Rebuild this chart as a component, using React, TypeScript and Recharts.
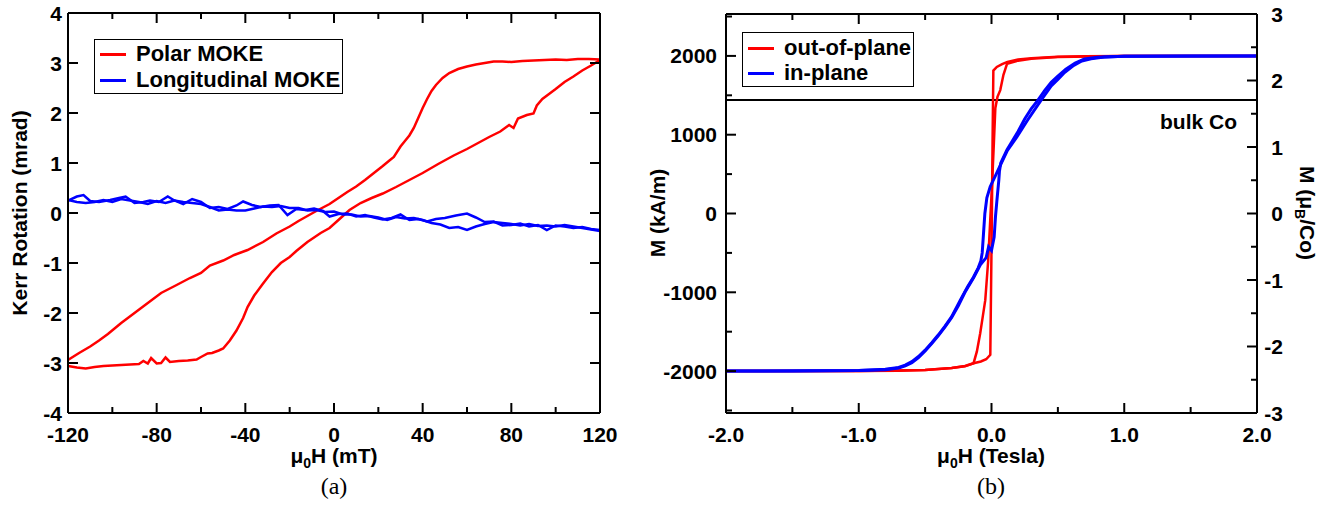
import { LineChart, Line, XAxis, YAxis, ReferenceLine } from 'recharts'

// ---- panel (a): Kerr rotation (mrad) vs field (mT) ----
const polarDown: [number, number][] = [
  [120, 3.07], [115, 3.08], [110, 3.08], [105, 3.06], [100, 3.07], [95, 3.06], [90, 3.05], [85, 3.04],
  [80, 3.02], [76, 3.03], [72, 3.03], [68, 3.0], [64, 2.97], [60, 2.93], [56, 2.88], [52, 2.8],
  [49, 2.7], [46, 2.56], [44, 2.44], [42, 2.28], [40, 2.1], [38, 1.9], [36, 1.7], [34, 1.55],
  [32, 1.44], [30, 1.33], [27, 1.12], [25, 1.05], [22, 0.94], [18, 0.8], [14, 0.66], [10, 0.53],
  [6, 0.42], [2, 0.3], [-2, 0.18], [-8, 0.04], [-12, -0.06], [-16, -0.16], [-20, -0.27], [-26, -0.41],
  [-32, -0.58], [-39, -0.74], [-45, -0.84], [-50, -0.95], [-56, -1.05], [-60, -1.2], [-65, -1.3],
  [-71, -1.44], [-78, -1.6], [-84, -1.8], [-90, -2.0], [-96, -2.2], [-102, -2.42], [-106, -2.55],
  [-110, -2.67], [-115, -2.8], [-120, -2.94],
]
const polarUp: [number, number][] = [
  [-120, -3.06], [-116, -3.09], [-112, -3.11], [-108, -3.08], [-104, -3.06], [-100, -3.05], [-96, -3.04],
  [-92, -3.03], [-88, -3.02], [-86, -2.96], [-84, -3.01], [-82.5, -2.9], [-80, -3.01], [-78, -3.0],
  [-76, -2.89], [-74, -2.98], [-70, -2.96], [-66, -2.95], [-62, -2.93], [-60, -2.88], [-57, -2.81],
  [-55, -2.8], [-52, -2.75], [-50, -2.71], [-47, -2.55], [-44, -2.35], [-41, -2.1], [-39, -1.88],
  [-36, -1.65], [-32, -1.41], [-28, -1.18], [-24, -1.0], [-20, -0.88], [-17, -0.76], [-12, -0.58],
  [-6, -0.4], [-2, -0.3], [3, -0.1], [7, 0.06], [12, 0.2], [17, 0.3], [22, 0.39], [28, 0.52],
  [34, 0.66], [40, 0.8], [47, 0.98], [54, 1.15], [60, 1.28], [65, 1.4], [70, 1.52], [75, 1.63],
  [79, 1.76], [81, 1.7], [83, 1.89], [87, 1.96], [90, 1.99], [91.5, 2.15], [94, 2.28], [97, 2.38],
  [100, 2.48], [104, 2.62], [108, 2.73], [112, 2.85], [116, 2.95], [120, 3.06],
]
const longUp: [number, number][] = [
  [-120, 0.25], [-116, 0.33], [-113, 0.36], [-110, 0.24], [-106, 0.22], [-101, 0.26], [-97, 0.3],
  [-94, 0.33], [-90, 0.2], [-86, 0.22], [-83, 0.25], [-79, 0.22], [-75, 0.33], [-72, 0.25], [-68, 0.18],
  [-64, 0.28], [-60, 0.22], [-56, 0.1], [-52, 0.12], [-48, 0.08], [-44, 0.15], [-41, 0.23], [-37, 0.16],
  [-33, 0.12], [-29, 0.15], [-25, 0.16], [-21, -0.04], [-17, 0.08], [-13, 0.06], [-9, 0.09], [-5, 0.04],
  [-2, -0.07], [2, -0.02], [6, -0.01], [10, -0.07], [14, -0.04], [18, -0.09], [22, -0.13], [26, -0.1],
  [30, -0.03], [34, -0.14], [38, -0.12], [42, -0.17], [46, -0.12], [50, -0.1], [55, -0.05], [60, -0.01],
  [64, -0.09], [68, -0.18], [72, -0.17], [76, -0.25], [80, -0.24], [84, -0.21], [88, -0.27], [92, -0.24],
  [96, -0.34], [100, -0.25], [104, -0.27], [108, -0.3], [112, -0.28], [116, -0.32], [120, -0.34],
]
const longDown: [number, number][] = [
  [120, -0.36], [116, -0.33], [112, -0.3], [108, -0.27], [104, -0.24], [100, -0.27], [96, -0.25],
  [92, -0.26], [88, -0.22], [84, -0.25], [80, -0.22], [76, -0.2], [72, -0.18], [68, -0.22], [64, -0.27],
  [60, -0.34], [56, -0.28], [52, -0.3], [48, -0.23], [44, -0.2], [40, -0.14], [36, -0.1], [32, -0.11],
  [28, -0.08], [24, -0.14], [20, -0.09], [16, -0.06], [12, -0.07], [8, -0.03], [4, -0.03], [0, 0.03],
  [-4, 0.02], [-8, 0.06], [-12, 0.05], [-16, 0.1], [-20, 0.1], [-24, 0.14], [-28, 0.12], [-32, 0.13],
  [-36, 0.09], [-40, 0.05], [-44, 0.05], [-48, 0.07], [-52, 0.05], [-56, 0.12], [-60, 0.18], [-64, 0.2],
  [-68, 0.22], [-72, 0.25], [-76, 0.2], [-80, 0.24], [-84, 0.18], [-88, 0.22], [-92, 0.25], [-96, 0.28],
  [-100, 0.22], [-104, 0.26], [-108, 0.22], [-112, 0.2], [-116, 0.22], [-120, 0.26],
]
const aXTicks = [-120, -100, -80, -60, -40, -20, 0, 20, 40, 60, 80, 100, 120]
const aXMajor = [-120, -80, -40, 0, 40, 80, 120]
const aYTicks = [-4, -3, -2, -1, 0, 1, 2, 3, 4]

// ---- panel (b): M (kA/m) vs field (Tesla) ----
const oopDown: [number, number][] = [
  [2.0, 2000], [1.5, 2000], [1.0, 1998], [0.7, 1995], [0.5, 1988], [0.3, 1972], [0.2, 1955],
  [0.12, 1925], [0.08, 1895], [0.04, 1860], [0.014, 1814], [0.008, 900], [0.003, 0], [-0.003, -900],
  [-0.009, -1794], [-0.04, -1850], [-0.08, -1878], [-0.135, -1900], [-0.2, -1935], [-0.3, -1960],
  [-0.5, -1985], [-0.7, -1995], [-1.0, -1998], [-1.5, -2000], [-2.0, -2000],
]
const oopUp: [number, number][] = [
  [-2.0, -2000], [-1.0, -1998], [-0.5, -1985], [-0.3, -1962], [-0.2, -1940], [-0.135, -1900],
  [-0.11, -1750], [-0.085, -1520], [-0.065, -1300], [-0.047, -1100], [-0.025, -600], [-0.01, -100],
  [0.005, 400], [0.018, 900], [0.029, 1340], [0.045, 1480], [0.066, 1566], [0.09, 1760], [0.117, 1899],
  [0.2, 1940], [0.3, 1965], [0.5, 1985], [1.0, 1998], [2.0, 2000],
]
const ipUp: [number, number][] = [
  [-2.0, -2000], [-1.5, -2000], [-1.0, -1992], [-0.8, -1978], [-0.7, -1955], [-0.65, -1925],
  [-0.6, -1880], [-0.55, -1815], [-0.5, -1735], [-0.45, -1640], [-0.4, -1540], [-0.35, -1430],
  [-0.3, -1310], [-0.235, -1100], [-0.18, -930], [-0.135, -805], [-0.1, -690], [-0.08, -600],
  [-0.07, -500], [-0.06, -250], [-0.05, 0], [-0.035, 200], [-0.01, 340], [0.03, 480], [0.06, 590],
  [0.12, 800], [0.19, 970], [0.27, 1180], [0.37, 1430], [0.45, 1620], [0.5, 1700], [0.55, 1790],
  [0.62, 1880], [0.68, 1935], [0.75, 1965], [0.85, 1985], [1.0, 1995], [1.5, 2000], [2.0, 2000],
]
const ipDown: [number, number][] = [
  [2.0, 2000], [1.0, 1995], [0.8, 1982], [0.7, 1960], [0.63, 1910], [0.56, 1830], [0.5, 1745],
  [0.45, 1665], [0.4, 1560], [0.35, 1440], [0.3, 1330], [0.25, 1200], [0.2, 1040], [0.15, 900],
  [0.117, 810], [0.07, 640], [0.06, 540], [0.055, 420], [0.04, 150], [0.03, -40], [0.02, -300],
  [0.0, -470], [-0.022, -424], [-0.04, -560], [-0.084, -650], [-0.135, -815], [-0.2, -1000],
  [-0.25, -1170], [-0.3, -1320], [-0.35, -1440], [-0.4, -1550], [-0.45, -1650], [-0.5, -1745],
  [-0.55, -1830], [-0.6, -1895], [-0.65, -1935], [-0.7, -1962], [-0.8, -1982], [-1.0, -1993], [-2.0, -2000],
]
const bulkCo = 1440
const bXTicks = [-2, -1.5, -1, -0.5, 0, 0.5, 1, 1.5, 2]
const bXMajor = [-2, -1, 0, 1, 2]
const bYTicks = [-2500, -2000, -1500, -1000, -500, 0, 500, 1000, 1500, 2000, 2500]
const bYMajor = [-2000, -1000, 0, 1000, 2000]
const bY2Ticks = [-3, -2.5, -2, -1.5, -1, -0.5, 0, 0.5, 1, 1.5, 2, 2.5, 3]
const bY2Major = [-3, -2, -1, 0, 1, 2, 3]
const bMaxM = 2532

const pts = (arr: [number, number][]) => arr.map(([h, v]) => ({ h, v }))

const FONT = '"Liberation Sans", Arial, sans-serif'
const RED = '#ff0000'
const BLUE = '#0000ff'

type Side = 'bottom' | 'top' | 'left' | 'right'

function makeTick(side: Side, majors: number[], fmt: ((v: number) => string) | null, gap = 7) {
  return (props: any) => {
    const { x, y, payload } = props
    const v = payload.value as number
    const major = majors.some((m) => Math.abs(m - v) < 1e-9)
    const len = major ? 10 : 6
    let x2 = x, y2 = y
    if (side === 'bottom') y2 = y - len
    if (side === 'top') y2 = y + len
    if (side === 'left') x2 = x + len
    if (side === 'right') x2 = x - len
    let label = null
    if (fmt && major) {
      const style = { fontFamily: FONT, fontWeight: 700, fontSize: 21, fill: '#000' }
      if (side === 'bottom') label = <text x={x} y={y + 29} textAnchor="middle" style={style}>{fmt(v)}</text>
      if (side === 'left') label = <text x={x - gap} y={y + 7.5} textAnchor="end" style={style}>{fmt(v)}</text>
      if (side === 'right') label = <text x={x + gap} y={y + 7.5} textAnchor="end" style={style}>{fmt(v)}</text>
    }
    return (
      <g>
        <line x1={x} y1={y} x2={x2} y2={y2} stroke="#000" strokeWidth={2} />
        {label}
      </g>
    )
  }
}

const axisLine = { stroke: '#000', strokeWidth: 2 }

const txt = (left: number, top: number, rot = 0, extra: any = {}): React.CSSProperties => ({
  position: 'absolute', left, top, transform: `translate(-50%,-50%) rotate(${rot}deg)`, lineHeight: 1,
  whiteSpace: 'nowrap', fontFamily: FONT, fontWeight: 700, fontSize: 21, color: '#000', ...extra,
})

const Sub = ({ children }: { children: string }) => (
  <span style={{ fontSize: 14, position: 'relative', top: 5 }}>{children}</span>
)

function LegendBox({ left, top, width, height, rows }: { left: number; top: number; width: number; height: number; rows: [string, string, number][] }) {
  return (
    <div style={{ position: 'absolute', left, top, width, height, border: '1.5px solid #000', boxSizing: 'border-box', background: '#fff' }}>
      {rows.map(([label, color, cy]) => (
        <div key={label}>
          <div style={{ position: 'absolute', left: 5, top: cy - 1.5, width: 26, height: 3, background: color }} />
          <div style={{ position: 'absolute', left: 41, top: cy, transform: 'translateY(-50%)', whiteSpace: 'nowrap', fontFamily: FONT, fontWeight: 700, fontSize: 22 }}>{label}</div>
        </div>
      ))}
    </div>
  )
}

function PanelA() {
  return (
    <div style={{ position: 'absolute', left: 0, top: 0 }}>
      <LineChart width={640} height={506} margin={{ top: 0, right: 0, bottom: 0, left: 0 }}>
        <XAxis xAxisId="b" type="number" dataKey="h" domain={[-120, 120]} allowDataOverflow ticks={aXTicks} interval={0}
          orientation="bottom" height={93} tickSize={0} tickMargin={0} axisLine={axisLine} tickLine={false}
          tick={makeTick('bottom', aXMajor, (v) => String(v))} />
        <XAxis xAxisId="t" type="number" dataKey="h" domain={[-120, 120]} allowDataOverflow ticks={aXTicks} interval={0}
          orientation="top" height={13} tickSize={0} tickMargin={0} axisLine={axisLine} tickLine={false}
          tick={makeTick('top', aXMajor, null)} />
        <YAxis yAxisId="l" type="number" domain={[-4, 4]} allowDataOverflow ticks={aYTicks} interval={0}
          orientation="left" width={68} tickSize={0} tickMargin={0} axisLine={axisLine} tickLine={false}
          tick={makeTick('left', aYTicks, (v) => String(v), 6)} />
        <YAxis yAxisId="r" type="number" domain={[-4, 4]} allowDataOverflow ticks={aYTicks} interval={0}
          orientation="right" width={40} tickSize={0} tickMargin={0} axisLine={axisLine} tickLine={false}
          tick={makeTick('right', aYTicks, null)} />
        <Line xAxisId="b" yAxisId="l" data={pts(polarDown)} dataKey="v" stroke={RED} strokeWidth={2.5} dot={false} isAnimationActive={false} />
        <Line xAxisId="b" yAxisId="l" data={pts(polarUp)} dataKey="v" stroke={RED} strokeWidth={2.5} dot={false} isAnimationActive={false} />
        <Line xAxisId="b" yAxisId="l" data={pts(longUp)} dataKey="v" stroke={BLUE} strokeWidth={2.5} dot={false} isAnimationActive={false} />
        <Line xAxisId="b" yAxisId="l" data={pts(longDown)} dataKey="v" stroke={BLUE} strokeWidth={2.5} dot={false} isAnimationActive={false} />
      </LineChart>
      <LegendBox left={94} top={39} width={249} height={55} rows={[['Polar MOKE', RED, 14], ['Longitudinal MOKE', BLUE, 40]]} />
      <div style={txt(19, 213, -90)}>Kerr Rotation (mrad)</div>
      <div style={txt(334, 455)}>μ<Sub>0</Sub>H (mT)</div>
      <div style={txt(334, 486, 0, { fontFamily: '"Liberation Serif", "DejaVu Serif", serif', fontWeight: 400, fontSize: 24 })}>(a)</div>
    </div>
  )
}

function PanelB() {
  return (
    <div style={{ position: 'absolute', left: 640, top: 0 }}>
      <LineChart width={704} height={506} margin={{ top: 0, right: 0, bottom: 0, left: 0 }}>
        <XAxis xAxisId="b" type="number" dataKey="h" domain={[-2, 2]} allowDataOverflow ticks={bXTicks} interval={0}
          orientation="bottom" height={93} tickSize={0} tickMargin={0} axisLine={axisLine} tickLine={false}
          tick={makeTick('bottom', bXMajor, (v) => v.toFixed(1))} />
        <XAxis xAxisId="t" type="number" dataKey="h" domain={[-2, 2]} allowDataOverflow ticks={bXTicks} interval={0}
          orientation="top" height={14} tickSize={0} tickMargin={0} axisLine={axisLine} tickLine={false}
          tick={makeTick('top', bXMajor, null)} />
        <YAxis yAxisId="l" type="number" domain={[-bMaxM, bMaxM]} allowDataOverflow ticks={bYTicks} interval={0}
          orientation="left" width={86} tickSize={0} tickMargin={0} axisLine={axisLine} tickLine={false}
          tick={makeTick('left', bYMajor, (v) => String(v), 9)} />
        <YAxis yAxisId="r" type="number" domain={[-3, 3]} allowDataOverflow ticks={bY2Ticks} interval={0}
          orientation="right" width={87} tickSize={0} tickMargin={0} axisLine={axisLine} tickLine={false}
          tick={makeTick('right', bY2Major, (v) => String(v), 26)} />
        <ReferenceLine xAxisId="b" yAxisId="l" y={bulkCo} stroke="#000" strokeWidth={2} />
        <Line xAxisId="b" yAxisId="l" data={pts(oopDown)} dataKey="v" stroke={RED} strokeWidth={2.5} dot={false} isAnimationActive={false} />
        <Line xAxisId="b" yAxisId="l" data={pts(oopUp)} dataKey="v" stroke={RED} strokeWidth={2.5} dot={false} isAnimationActive={false} />
        <Line xAxisId="b" yAxisId="l" data={pts(ipUp)} dataKey="v" stroke={BLUE} strokeWidth={3} dot={false} isAnimationActive={false} />
        <Line xAxisId="b" yAxisId="l" data={pts(ipDown)} dataKey="v" stroke={BLUE} strokeWidth={3} dot={false} isAnimationActive={false} />
      </LineChart>
      <LegendBox left={102} top={32} width={172} height={55} rows={[['out-of-plane', RED, 15], ['in-plane', BLUE, 40]]} />
      <div style={{ ...txt(597, 121), transform: 'translate(-100%,-50%)' }}>bulk Co</div>
      <div style={txt(17, 213, -90)}>M (kA/m)</div>
      <div style={txt(667, 213, 90)}>M (μ<Sub>B</Sub>/Co)</div>
      <div style={txt(351, 455)}>μ<Sub>0</Sub>H (Tesla)</div>
      <div style={txt(351, 486, 0, { fontFamily: '"Liberation Serif", "DejaVu Serif", serif', fontWeight: 400, fontSize: 24 })}>(b)</div>
    </div>
  )
}

export default function App() {
  return (
    <div style={{ position: 'absolute', left: 0, top: 0, width: 1344, height: 506, background: '#fff', overflow: 'hidden' }}>
      <PanelA />
      <PanelB />
    </div>
  )
}
